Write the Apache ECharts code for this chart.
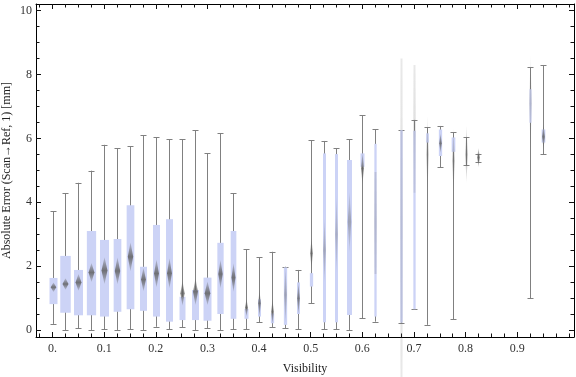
<!DOCTYPE html>
<html>
<head>
<meta charset="utf-8">
<script src="https://cdn.jsdelivr.net/npm/echarts@6/dist/echarts.min.js"></script>
<style>
html, body { margin: 0; padding: 0; background: #fff; }
#chart { width: 576px; height: 377px; }
</style>
</head>
<body>
<div id="chart"></div>
<script>
// visibility bins and box-whisker statistics (mm)
const visibility    = [0, 0.025, 0.05, 0.075, 0.1, 0.125, 0.15, 0.175, 0.2, 0.225, 0.25, 0.275, 0.3, 0.325, 0.35, 0.375, 0.4, 0.425, 0.45, 0.475, 0.5, 0.525, 0.55, 0.575, 0.6, 0.625, 0.675, 0.7, 0.725, 0.75, 0.775, 0.8, 0.825, 0.925, 0.95]
const whiskerLow    = [0.19, 0.0, 0.05, 0.0, 0.03, 0.0, 0.03, 0.0, 0.1, 0.03, 0.08, 0.0, 0.05, 0.0, 0.03, 0.03, 0.25, 0.08, 0.05, 0.02, 0.84, 0.02, 0.02, 0.0, 0.37, 0.26, 0.23, 0.65, 0.16, 5.1, 0.33, 5.16, 5.27, 0.99, 5.5]
const lowerQuartile = [0.81, 0.54, 0.46, 0.46, 0.42, 0.57, 0.65, 0.6, 0.42, 0.26, 0.31, 0.31, 0.29, 0.5, 0.35, 0.35, 0.42, 0.21, 0.16, 0.5, 1.36, 0.24, 0.24, 0.47, 5.11, 0.42, 0.23, 0.65, 5.87, 5.45, 5.58, 5.5, 5.38, 6.49, 5.87]
const upperQuartile = [1.63, 2.32, 1.88, 3.1, 2.82, 2.85, 3.91, 1.98, 3.29, 3.47, 1.04, 1.25, 1.64, 2.73, 3.1, 0.66, 0.96, 0.52, 1.96, 1.49, 1.78, 5.53, 5.51, 5.32, 5.53, 5.83, 6.26, 6.24, 6.16, 6.28, 6.03, 5.6, 5.4, 7.54, 6.28]
const whiskerHigh   = [3.72, 4.28, 4.61, 4.99, 5.8, 5.69, 5.76, 6.1, 6.03, 5.97, 5.97, 6.25, 5.53, 6.17, 4.28, 2.53, 2.28, 2.45, 1.98, 1.88, 5.94, 5.92, 5.69, 5.97, 6.72, 6.28, 6.26, 6.58, 6.35, 6.39, 6.19, 6.03, 5.51, 8.23, 8.3]
const markerCentre  = [1.34, 1.44, 1.49, 1.8, 1.86, 1.85, 2.29, 1.58, 1.77, 1.78, 1.15, 1.2, 1.15, 1.75, 1.64, 0.7, 0.84, 0.57, 1.1, 0.99, 2.4, 2.5, 3.0, 3.39, 5.06, 3.35, 3.5, 6.3, 5.5, 5.85, 5.3, 5.5, 5.4, 7.1, 6.05]
const markerSpread  = [0.15, 0.18, 0.26, 0.3, 0.42, 0.42, 0.45, 0.37, 0.44, 0.47, 0.39, 0.42, 0.37, 0.44, 0.45, 0.28, 0.42, 0.4, 0.9, 0.5, 0.5, 1.0, 1.2, 0.94, 0.5, 1.6, 5.0, 2.0, 1.2, 0.3, 1.0, 0.9, 0.3, 1.5, 0.4]

// axis ticks
const xMajorTicks = [0, 0.1, 0.2, 0.3, 0.4, 0.5, 0.6, 0.7, 0.8, 0.9]
const xTickLabels = ['0.', '0.1', '0.2', '0.3', '0.4', '0.5', '0.6', '0.7', '0.8', '0.9']
const yMajorTicks = [0, 2, 4, 6, 8, 10]
const yTickLabels = ['0', '2', '4', '6', '8', '10']
const xMinorTicks = Array.from({ length: 42 }, (_, i) => Math.round((i - 1) * 25) / 1000)
const yMinorTicks = Array.from({ length: 21 }, (_, i) => i * 0.5)

// drawn box widths (px)
const boxPx = [8, 10.5, 9, 9.3, 9, 7.7, 7.7, 7, 7, 7, 6, 7, 8, 6.3, 5.7, 4, 3, 3.3, 3.3, 3, 3.3, 3, 3, 5, 4, 2.3, 2.3, 2.3, 2.7, 3.3, 3.7, 0, 0, 2, 3.7]

const FONT = 'Liberation Serif'
const X_MIN = -0.032, X_MAX = 1.01, Y_MIN = -0.22, Y_MAX = 10.21

const chart = echarts.init(document.getElementById('chart'))

const labelOf = (ticks, labels) => v => {
  const i = ticks.findIndex(t => Math.abs(t - v) < 1e-6)
  return i < 0 ? '' : labels[i]
}

const tickAxis = (extra) => Object.assign({
  type: 'value',
  splitLine: { show: false },
  axisLine: { show: false, onZero: false },
  axisLabel: { show: false },
  axisTick: { show: true, inside: true, length: 3.5, lineStyle: { color: '#111', width: 1 } }
}, extra)

const renderBox = (params, api) => {
  const i = params.dataIndex
  const x = api.value(0)
  const px = Math.round(api.coord([x, 0])[0]) + 0.5
  const yLo = api.coord([x, api.value(1)])[1]
  const yQ1 = api.coord([x, api.value(2)])[1]
  const yQ3 = api.coord([x, api.value(3)])[1]
  const yHi = api.coord([x, api.value(4)])[1]
  const c = api.value(5), s = api.value(6)
  const yTop = api.coord([x, c + s])[1]
  const yMid = api.coord([x, c])[1]
  const yBot = api.coord([x, c - s])[1]
  const w = boxPx[i]
  const dw = Math.max(2.5, Math.min(w * 0.7, 6))
  const tipW = s > 1.5 ? 1 : 0
  const a = Math.max(0.2, Math.min(0.85, 0.4 / s))
  const tip = s > 1.5 ? 0.7 : 0.25
  const grey = 'rgba(95,95,95,'
  const wStyle = { stroke: '#808080', lineWidth: 1 }
  const children = [
    { type: 'line', shape: { x1: px, y1: yLo, x2: px, y2: yHi }, style: wStyle },
    { type: 'line', shape: { x1: px - 3, y1: Math.round(yLo) + 0.5, x2: px + 3, y2: Math.round(yLo) + 0.5 }, style: wStyle },
    { type: 'line', shape: { x1: px - 3, y1: Math.round(yHi) + 0.5, x2: px + 3, y2: Math.round(yHi) + 0.5 }, style: wStyle }
  ]
  if (w > 0) {
    children.push({ type: 'rect', shape: { x: px - w / 2, y: yQ3, width: w, height: yQ1 - yQ3 }, style: { fill: 'rgb(204,211,246)' } })
  }
  children.push({
    type: 'polygon',
    shape: {
      points: [
        [px - tipW, yTop], [px + tipW, yTop], [px + dw / 2, yMid],
        [px + tipW, yBot], [px - tipW, yBot], [px - dw / 2, yMid]
      ]
    },
    style: {
      fill: new echarts.graphic.LinearGradient(0, 0, 0, 1, [
        { offset: 0, color: grey + (a * tip) + ')' },
        { offset: 0.5, color: grey + a + ')' },
        { offset: 1, color: grey + (a * tip) + ')' }
      ])
    }
  })
  return { type: 'group', children }
}

chart.setOption({
  animation: false,
  grid: { left: 36, right: 2, top: 4, bottom: 40, show: false, containLabel: false, outerBoundsMode: 'none' },
  xAxis: [
    tickAxis({
      min: X_MIN, max: X_MAX, position: 'bottom',
      axisLine: { show: true, onZero: false, lineStyle: { color: '#000', width: 1 } },
      axisTick: { show: true, inside: true, length: 5, customValues: xMajorTicks, lineStyle: { color: '#111' } },
      axisLabel: { show: true, customValues: xMajorTicks, formatter: labelOf(xMajorTicks, xTickLabels), margin: 6, fontFamily: FONT, fontSize: 12, color: '#333' },
      name: 'Visibility', nameLocation: 'middle', nameGap: 26,
      nameTextStyle: { fontFamily: FONT, fontSize: 12, color: '#222' }
    }),
    tickAxis({ min: X_MIN, max: X_MAX, position: 'bottom', axisTick: { show: true, inside: true, length: 3.5, customValues: xMinorTicks, lineStyle: { color: '#111' } } }),
    tickAxis({
      min: X_MIN, max: X_MAX, position: 'top',
      axisLine: { show: true, onZero: false, lineStyle: { color: '#000', width: 1 } },
      axisTick: { show: true, inside: true, length: 5, customValues: xMajorTicks, lineStyle: { color: '#111' } }
    }),
    tickAxis({ min: X_MIN, max: X_MAX, position: 'top', axisTick: { show: true, inside: true, length: 3.5, customValues: xMinorTicks, lineStyle: { color: '#111' } } })
  ],
  yAxis: [
    tickAxis({
      min: Y_MIN, max: Y_MAX, position: 'left',
      axisLine: { show: true, onZero: false, lineStyle: { color: '#000', width: 1 } },
      axisTick: { show: true, inside: true, length: 5, customValues: yMajorTicks, lineStyle: { color: '#111' } },
      axisLabel: { show: true, customValues: yMajorTicks, formatter: labelOf(yMajorTicks, yTickLabels), margin: 4, fontFamily: FONT, fontSize: 12, color: '#333' },
      name: 'Absolute Error (Scan\u2192Ref, 1) [mm]', nameLocation: 'middle', nameGap: 23, nameRotate: 90,
      nameMoveOverlap: false,
      nameTextStyle: { fontFamily: FONT, fontSize: 12, color: '#222' }
    }),
    tickAxis({ min: Y_MIN, max: Y_MAX, position: 'left', axisTick: { show: true, inside: true, length: 3.5, customValues: yMinorTicks, lineStyle: { color: '#111' } } }),
    tickAxis({
      min: Y_MIN, max: Y_MAX, position: 'right',
      axisLine: { show: true, onZero: false, lineStyle: { color: '#000', width: 1 } },
      axisTick: { show: true, inside: true, length: 5, customValues: yMajorTicks, lineStyle: { color: '#111' } }
    }),
    tickAxis({ min: Y_MIN, max: Y_MAX, position: 'right', axisTick: { show: true, inside: true, length: 3.5, customValues: yMinorTicks, lineStyle: { color: '#111' } } })
  ],
  series: [{
    type: 'custom',
    xAxisIndex: 0,
    yAxisIndex: 0,
    clip: false,
    renderItem: renderBox,
    encode: { x: 0, y: [1, 4] },
    data: visibility.map((v, i) => [v, whiskerLow[i], lowerQuartile[i], upperQuartile[i], whiskerHigh[i], markerCentre[i], markerSpread[i]])
  }]
})
</script>
</body>
</html>
